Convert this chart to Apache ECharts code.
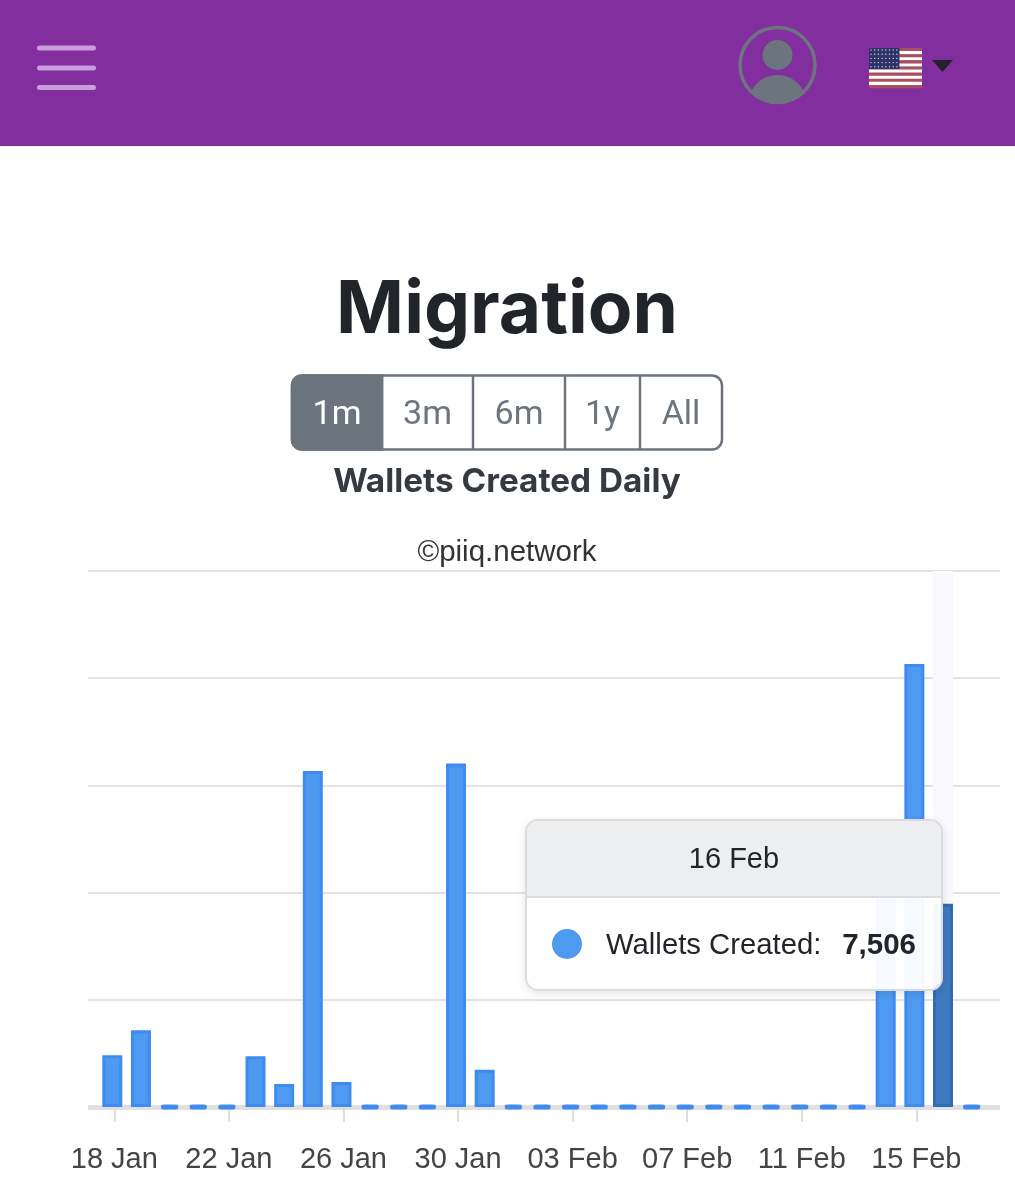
<!DOCTYPE html>
<html><head><meta charset="utf-8">
<style>html,body{margin:0;padding:0;background:#fff}#c{width:1015px;height:1200px}</style>
<script src="https://cdn.jsdelivr.net/npm/echarts@6/dist/echarts.min.js"></script>
</head><body><div id="c"></div>
<script>
const dates = ['18 Jan','19 Jan','20 Jan','21 Jan','22 Jan','23 Jan','24 Jan','25 Jan','26 Jan','27 Jan','28 Jan','29 Jan','30 Jan','31 Jan',
 '01 Feb','02 Feb','03 Feb','04 Feb','05 Feb','06 Feb','07 Feb','08 Feb','09 Feb','10 Feb','11 Feb','12 Feb','13 Feb','14 Feb','15 Feb','16 Feb','17 Feb'];
const walletsCreated = [1910,2833,0,0,0,1873,850,12412,924,0,0,0,12689,1378,0,0,0,0,0,0,0,0,0,0,0,0,0,8000,16365,7506,0];
const tickIndexes = [0,4,8,12,16,20,24,28];
const rangeButtons = ['1m','3m','6m','1y','All'];
const selectedIndex = 29;

const PURPLE='#822e9f', BLUE='#4e9af1', EDGE='#3f8bf0';
const TICK_SHIFT = 0.07;

// page chrome
const gfx = [];
gfx.push({type:'rect',shape:{x:0,y:0,width:1015,height:146},style:{fill:PURPLE}});
[48,68,87.5].forEach(y=>gfx.push({type:'rect',shape:{x:37,y:y-2.5,width:59,height:5,r:2.5},style:{fill:'#c99edd'}}));
gfx.push({type:'circle',shape:{cx:777.5,cy:65,r:37.5},style:{fill:'none',stroke:'#6c757d',lineWidth:3.5}});
gfx.push({type:'circle',shape:{cx:777.5,cy:55,r:15},style:{fill:'#6c757d'}});
// avatar shoulders: overlap of the ring's disc and a lower disc
const shoulderTop=[], shoulderBottom=[];
for(let x=-29;x<=29;x+=1){
  const top=104-Math.sqrt(Math.max(0,29*29-x*x)), bot=65+Math.sqrt(Math.max(0,37.5*37.5-x*x));
  if(top<bot){shoulderTop.push([777.5+x,top]); shoulderBottom.unshift([777.5+x,bot]);}
}
gfx.push({type:'polygon',shape:{points:shoulderTop.concat(shoulderBottom)},style:{fill:'#6c757d'}});
for(let i=0;i<13;i++){gfx.push({type:'rect',shape:{x:869,y:48+i*40/13,width:53,height:40/13+0.3},style:{fill:i%2?'#ffffff':'#a8505f'}});}
gfx.push({type:'rect',shape:{x:869,y:48,width:30.5,height:21},style:{fill:'#2f3468'}});
for(let r=0;r<5;r++)for(let k=0;k<8;k++){gfx.push({type:'circle',shape:{cx:871+k*3.7,cy:50+r*4.2,r:0.7},style:{fill:'#cfd3e6'}});}
gfx.push({type:'polygon',shape:{points:[[932,60],[953,60],[942.5,72]]},style:{fill:'#24222e'}});

// button group
const edges=[292,382,473,565,640,722], btnY=375.5, btnH=74;
gfx.push({type:'rect',shape:{x:292,y:btnY,width:430,height:btnH,r:10},style:{fill:'#fff',stroke:'#6c757d',lineWidth:2.5}});
gfx.push({type:'rect',shape:{x:292,y:btnY,width:90,height:btnH,r:[10,0,0,10]},style:{fill:'#6c757d',stroke:'#6c757d',lineWidth:2.5}});
rangeButtons.forEach((t,i)=>{
  if(i>0)gfx.push({type:'line',shape:{x1:edges[i],y1:btnY,x2:edges[i],y2:btnY+btnH},style:{stroke:'#6c757d',lineWidth:2.5}});
  gfx.push({type:'text',style:{text:t,x:(edges[i]+edges[i+1])/2,y:415,align:'center',verticalAlign:'middle',
    font:'400 34px Roboto, "Liberation Sans", sans-serif',fill:i===0?'#ffffff':'#6c757d'}});
});

const chart=echarts.init(document.getElementById('c'),null,{renderer:'canvas'});
const tipHtml=(i)=>`<div style="width:414px;height:168px;box-sizing:border-box;font-family:'Liberation Sans',sans-serif;color:#212529">
<div style="height:75px;background:#edeef0;border-bottom:2px solid #dcdcdc;border-radius:11px 11px 0 0;text-align:center;font-size:29px;line-height:75px">${dates[i]}</div>
<div style="position:relative;height:91px;font-size:29.3px;line-height:91px">
<span style="position:absolute;left:25px;top:31px;width:30px;height:30px;border-radius:50%;background:${BLUE}"></span>
<span style="position:absolute;left:79px;top:0">Wallets Created:</span>
<b style="position:absolute;right:25px;top:0;font-size:29.5px">${walletsCreated[i].toLocaleString('en-US')}</b>
</div></div>`;

chart.setOption({
  animation:false,
  graphic:{elements:gfx},
  title:[
   {text:'Migration',left:502,top:270,textAlign:'center',textStyle:{fontFamily:'Inter',fontWeight:700,fontSize:73,color:'#212529'}},
   {text:'Wallets Created Daily',left:502,top:460,textAlign:'center',textStyle:{fontFamily:'Inter',fontWeight:700,fontSize:33.3,color:'#343a40'}},
   {text:'©piiq.network',left:502,top:532.5,textAlign:'center',textStyle:{fontFamily:'Liberation Sans',fontWeight:400,fontSize:29.5,color:'#333333'}}
  ],
  grid:{left:88,right:15,top:571,height:536,containLabel:false},
  xAxis:{type:'value',min:-0.848,max:30.99,
    splitLine:{show:false},
    axisLine:{show:true,onZero:false,lineStyle:{color:'#e0e0e0',width:5,cap:'butt'}},
    axisTick:{show:true,length:15,lineStyle:{color:'#dddddd',width:2},customValues:tickIndexes.map(v=>v+TICK_SHIFT)},
    axisLabel:{show:true,margin:38,fontSize:29,fontFamily:'Liberation Sans',color:'#444444',
      customValues:tickIndexes.map(v=>v+TICK_SHIFT),
      formatter:v=>dates[Math.round(v)]}},
  yAxis:{type:'value',min:0,max:19800,interval:3960,
    axisLine:{show:false},axisTick:{show:false},axisLabel:{show:false},
    splitLine:{show:true,lineStyle:{color:'#e3e3e3',width:2}}},
  tooltip:{trigger:'item',triggerOn:'none',alwaysShowContent:true,transitionDuration:0,padding:0,
    backgroundColor:'rgba(255,255,255,0.95)',borderColor:'#dcdcdc',borderWidth:2,
    position:[525,819],
    extraCssText:'border-radius:13px;box-shadow:0 3px 8px rgba(0,0,0,0.10);overflow:hidden;',
    formatter:p=>tipHtml(p.dataIndex)},
  series:[
   {type:'bar',name:'Wallets Created',barWidth:20,barGap:'-100%',
    data:walletsCreated.map((v,i)=>{
      if(v===0) return {value:[i,v],itemStyle:{opacity:0}};
      if(i===selectedIndex) return {value:[i,v],itemStyle:{color:'#3f79bf',borderColor:'#2f6cb4',borderWidth:3}};
      return {value:[i,v]};
    }),
    itemStyle:{color:BLUE,borderColor:EDGE,borderWidth:3},
    emphasis:{disabled:true},
    markArea:{silent:true,itemStyle:{color:'#f8f9fd'},
      data:[[{xAxis:selectedIndex-0.35,yAxis:19800},{xAxis:selectedIndex+0.35,yAxis:walletsCreated[selectedIndex]}]]}
   },
   {type:'scatter',name:'Zero days',symbol:'roundRect',symbolSize:[17,5],silent:true,
    data:walletsCreated.map((v,i)=>[i,v]).filter(d=>d[1]===0),
    itemStyle:{color:EDGE,opacity:1},emphasis:{disabled:true},z:3,tooltip:{show:false}}
  ]
});
chart.dispatchAction({type:'showTip',seriesIndex:0,dataIndex:selectedIndex});
</script></body></html>
